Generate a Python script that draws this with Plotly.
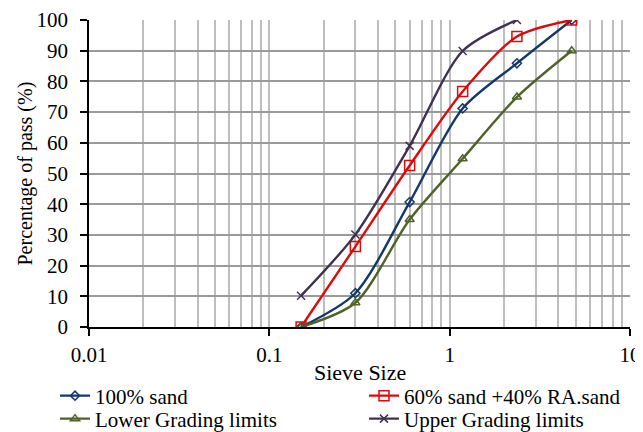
import plotly.graph_objects as go

sieve = [0.15, 0.3, 0.6, 1.18, 2.36, 4.75]
sand100 = [0, 11, 40.7, 71.2, 85.9, 100]
sand60_ra40 = [0, 26.2, 52.6, 76.7, 94.6, 100]
lower_limit = [0, 7.9, 35, 54.8, 74.9, 90]
upper_sieve = [0.15, 0.3, 0.6, 1.18, 2.36]
upper_limit = [10.2, 30.1, 59, 89.9, 100]
tick_vals = [0.01, 0.1, 1, 10]
tick_text = ["0.01", "0.1", "1", "10"]

font_family = "Liberation Serif, Times New Roman, serif"
W, H = 635, 424   # page body adds an 8px offset

fig = go.Figure()
series = [
    ("100% sand", sieve, sand100, "#13386B", "diamond-open", 7, "legend"),
    ("60% sand +40% RA.sand", sieve, sand60_ra40, "#DD0A0A", "square-open", 10, "legend2"),
    ("Lower Grading limits", sieve, lower_limit, "#4F6228", "triangle-up-open", 8, "legend3"),
    ("Upper Grading limits", upper_sieve, upper_limit, "#403151", "x-thin-open", 8, "legend4"),
]
for name, xs, ys, col, sym, sz, lg in series:
    fig.add_trace(go.Scatter(
        x=xs, y=ys, name=name, mode="lines+markers", legend=lg,
        line=dict(color=col, width=2.4, shape="spline", smoothing=0.8),
        marker=dict(symbol=sym, size=sz, color=col, line=dict(color=col, width=1.5)),
    ))

legend_common = dict(orientation="h", xref="container", yref="container",
                     xanchor="left", yanchor="middle",
                     font=dict(size=21, family=font_family), itemwidth=30,
                     bgcolor="rgba(0,0,0,0)", borderwidth=0)
c1, c2 = 47 / W, 356 / W
r1, r2 = 1 - 388 / H, 1 - 411 / H

fig.update_layout(
    width=W, height=H,
    margin=dict(l=81, r=13, t=12, b=105),
    paper_bgcolor="white", plot_bgcolor="white",
    font=dict(family=font_family, size=21, color="black"),
    showlegend=True,
    legend=dict(x=c1, y=r1, **legend_common),
    legend2=dict(x=c2, y=r1, **legend_common),
    legend3=dict(x=c1, y=r2, **legend_common),
    legend4=dict(x=c2, y=r2, **legend_common),
    annotations=[
        dict(text="Sieve Size", xref="paper", yref="paper", x=0.5, y=-45 / 307,
             xanchor="center", yanchor="middle", showarrow=False,
             font=dict(size=22, family=font_family)),
        dict(text="Percentage of pass (%)", xref="paper", yref="paper",
             x=-64 / 541, y=0.5, textangle=-90, xanchor="center", yanchor="middle",
             showarrow=False, font=dict(size=20, family=font_family)),
    ],
)
fig.update_xaxes(
    type="log", range=[-2, 1], automargin=False,
    tickvals=tick_vals, ticktext=tick_text,
    ticks="outside", ticklen=7, tickcolor="black", tickwidth=1.5,
    ticklabelstandoff=1,
    showline=True, linecolor="black", linewidth=1.5,
    showgrid=True, gridcolor="#BEBEBE", gridwidth=1.6,
    minor=dict(dtick="D1", showgrid=True, gridcolor="#BEBEBE", gridwidth=1.6, ticks=""),
    zeroline=False, mirror=False,
)
fig.update_yaxes(
    range=[0, 100], dtick=10, automargin=False,
    ticks="outside", ticklen=7, tickcolor="black", tickwidth=1.5,
    ticklabelstandoff=8,
    showline=True, linecolor="black", linewidth=1.5,
    showgrid=True, gridcolor="#9A9A9A", gridwidth=1.6,
    zeroline=False,
)

fig.write_html("out.html")
